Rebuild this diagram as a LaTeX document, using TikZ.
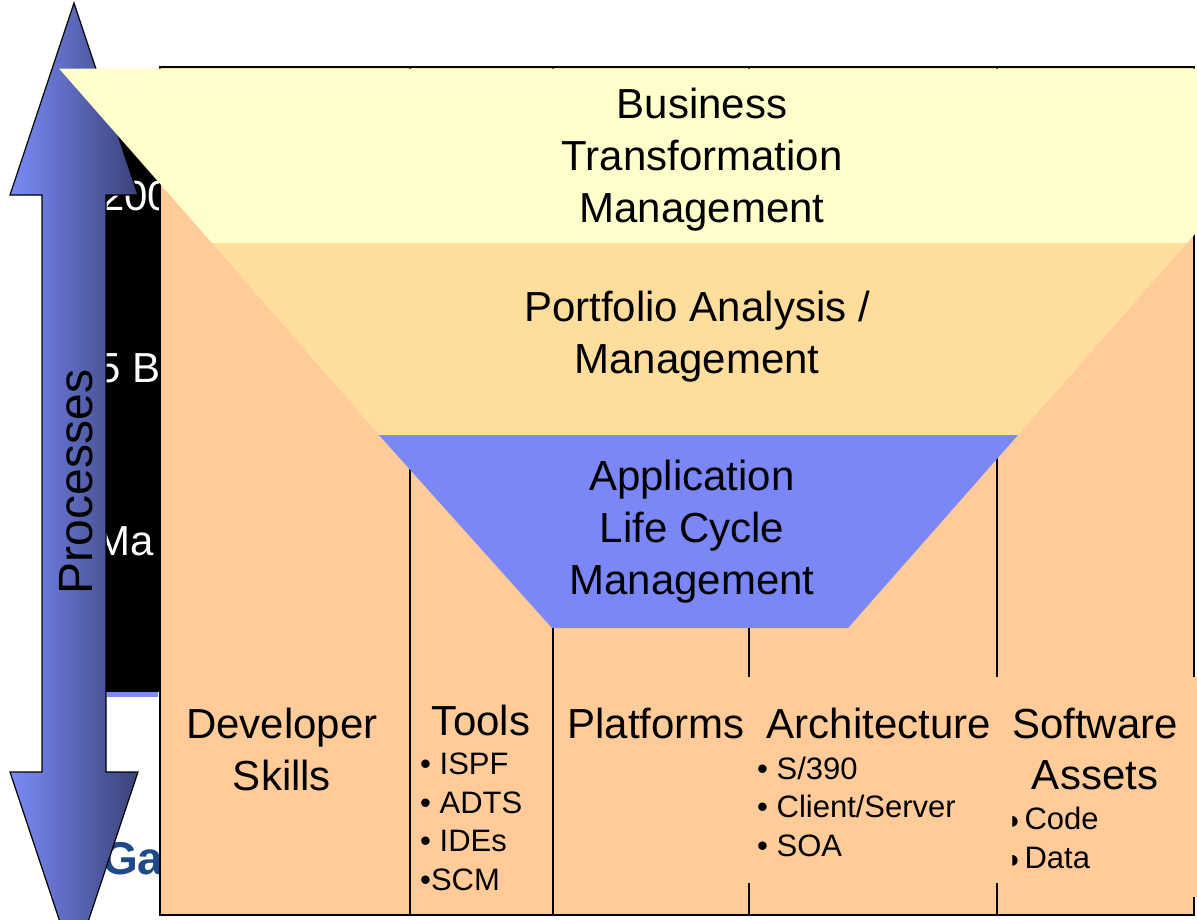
\documentclass[tikz,border=0pt]{standalone}
\usepackage{fontspec}
\setmainfont{Liberation Sans}
\newfontfamily\djv{DejaVu Sans}
\definecolor{peach}{HTML}{FFCC99}
\definecolor{ylw}{HTML}{FFFFCC}
\definecolor{port}{HTML}{FFDD9C}
\definecolor{alcm}{HTML}{7B87F7}
\definecolor{arrl}{HTML}{7B8BF8}
\definecolor{arrd}{HTML}{3A4278}
\definecolor{logo}{HTML}{1F4A8A}
\newcommand\halfbul{{\djv\fontsize{14}{14}\selectfont\raisebox{4pt}{◗}}\hspace{6pt}}
\begin{document}
\begin{tikzpicture}[x=1pt,y=-1pt,
  big/.style={font=\fontsize{42}{52}\selectfont, align=center, inner sep=0pt, anchor=base},
  bul/.style={font=\fontsize{31}{38.5}\selectfont, align=left, inner sep=0pt, anchor=base west},
  bgtxt/.style={font=\fontsize{42}{52}\selectfont, text=white, inner sep=0pt, anchor=base west},
  col/.style={fill=peach, draw=black, line width=1.2pt},
  cover/.style={fill=peach, draw=none}]
\useasboundingbox (0,0) rectangle (1197,919);
\clip (0,0) rectangle (1197,919);
\fill[white] (0,0) rectangle (1197,919);
% background slide remnants
\fill[black] (80,100) rectangle (160,692);
\fill[arrl] (107,692) rectangle (158,697);
\node[bgtxt] (t200) at (101,210) {200};
\node[bgtxt] (t5b) at (97,382) {5 B};
\node[bgtxt] (tma) at (95,555) {Ma};
\node[font=\fontsize{46}{46}\selectfont\bfseries, text=logo, inner sep=0pt, anchor=base west] (ga) at (102,874) {Ga};
% double arrow
\shade[left color=arrl, right color=arrd] (74,3) -- (138,195) -- (106,195) -- (106,772) -- (138,772) -- (74,964) -- (10,772) -- (42,772) -- (42,195) -- (10,195) -- cycle;
\draw[black, line width=1.2pt] (74,3) -- (138,195) -- (106,195) -- (106,772) -- (138,772) -- (74,964) -- (10,772) -- (42,772) -- (42,195) -- (10,195) -- cycle;
\node[font=\fontsize{48}{48}\selectfont, inner sep=0pt, anchor=base, rotate=90] (proc) at (92,482) {Processes};
% columns
\draw[col] (160,67) rectangle (410,915);
\draw[col] (410,67) rectangle (553,915);
\draw[col] (553,67) rectangle (749,915);
\draw[col] (749,67) rectangle (997,915);
\draw[col] (997,67) rectangle (1194,915);
% funnel
\fill[ylw] (59,68.5) -- (1341,68.5) -- (1187,243) -- (212,243) -- cycle;
\fill[port] (212,243) -- (1187,243) -- (1018,435) -- (379,435) -- cycle;
\fill[alcm] (379,435) -- (1018,435) -- (848,628) -- (552,628) -- cycle;
% text boxes that hide parts of the column lines
\fill[cover] (745,677) rectangle (1001,883);
\fill[cover] (999,677) rectangle (1197,897);
% labels (anchor = baseline of the last line)
\node[big] (btm) at (702,222) {Business\\Transformation\\Management};
\node[big] (pam) at (697,373) {Portfolio Analysis /\\Management};
\node[big] (alc) at (692,594) {Application\\Life Cycle\\Management};
\node[big] (dev) at (282,790) {Developer\\Skills};
\node[big] (tools) at (481,735) {Tools};
\node[bul] (toolsl) at (420,890) {• ISPF\\• ADTS\\• IDEs\\•SCM};
\node[big] (plat) at (656,738) {Platforms};
\node[big] (arch) at (879,738) {Architecture};
\node[bul] (archl) at (757,856) {• S/390\\• Client/Server\\• SOA};
\node[big, font=\fontsize{42}{51}\selectfont] (soft) at (1095,789) {Software\\Assets};
\node[bul] (softl) at (1011,868) {\halfbul Code\\\halfbul Data};
\end{tikzpicture}
\end{document}
